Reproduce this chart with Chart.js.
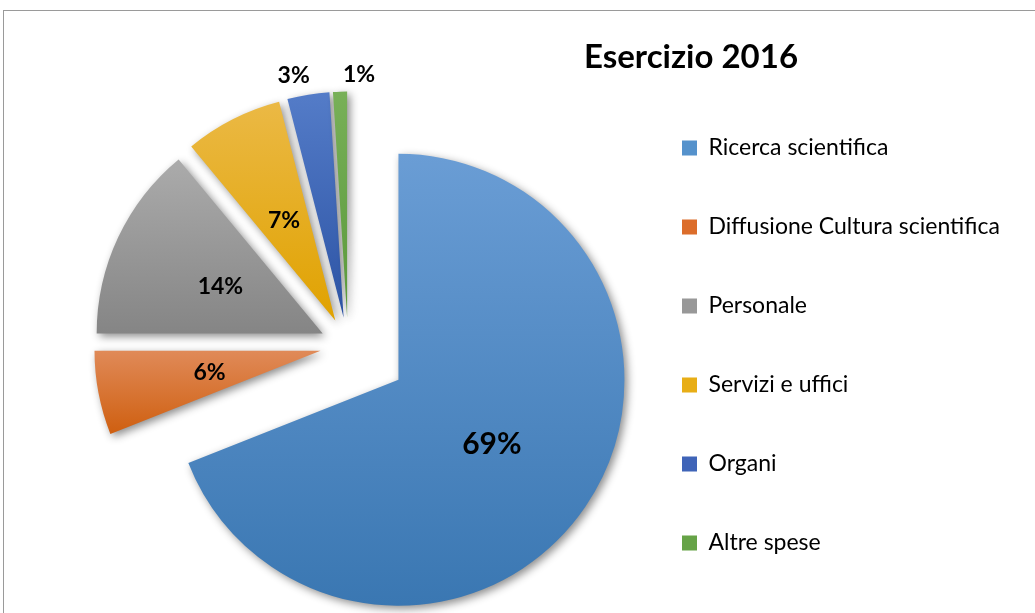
<!DOCTYPE html>
<html>
<head>
<meta charset="utf-8">
<script src="https://cdn.jsdelivr.net/npm/chart.js@4.4.1/dist/chart.umd.min.js"></script>
<style>
    html, body { margin: 0; padding: 0; background: #fff; overflow: hidden; }
    #cornice { position: absolute; left: 3px; top: 10px; width: 1100px; height: 700px;
               border-top: 1px solid #9a9a9a; border-left: 1px solid #9a9a9a; }
    #grafico { position: absolute; left: 0; top: 0; }
</style>
</head>
<body>
<div id="cornice"></div>
<canvas id="grafico" width="1035" height="690"></canvas>
<script>
const titolo = 'Esercizio 2016';
const categorie = ['Ricerca scientifica', 'Diffusione Cultura scientifica', 'Personale', 'Servizi e uffici', 'Organi', 'Altre spese'];
const percentuali = [69, 6, 14, 7, 3, 1];

// colori (sfumatura chiaro -> scuro come in Excel) e colore pieno per la legenda
const chiari = ['#6a9dd5', '#e08a58', '#ababab', '#ebb945', '#547cc8', '#78b058'];
const scuri = ['#3a77b2', '#cf5f10', '#858585', '#e0a200', '#2c53a4', '#5a993b'];
const pieni = ['#5592cc', '#dc6d2a', '#989898', '#e8ae16', '#3f64b8', '#66a347'];

const RAGGIO = 226;
const esplosione = [61, 28, 28, 28, 28, 28];           // px, lungo la bisettrice della fetta
const distEtichetta = [0.5, 0.5, 0.5, 0.5, 1.1, 1.08];
const spostAngolo = [0, 0, 0, 0, -2.6, 4.6];            // gradi
const fontEtichetta = [30, 23, 23, 23, 23, 23];

const corpoLegenda = 23;
const boxLegenda = 15;
const padLegenda = 79 - corpoLegenda;
const xLegenda = 682;
const misura = document.createElement('canvas').getContext('2d');
misura.font = corpoLegenda + 'px Lato';
const piuLungo = Math.max(...categorie.map(t => misura.measureText(t).width));

function riempimento(ctx) {
    const chart = ctx.chart;
    const area = chart.chartArea;
    const i = ctx.dataIndex;
    if (!area || ctx.type !== 'data') return pieni[i];
    const totale = percentuali.reduce((a, b) => a + b, 0);
    let prima = 0;
    for (let k = 0; k < i; k++) prima += percentuali[k];
    const a0 = -Math.PI / 2 + 2 * Math.PI * prima / totale;
    const a1 = a0 + 2 * Math.PI * percentuali[i] / totale;
    const mid = (a0 + a1) / 2;
    const cy = (area.top + area.bottom) / 2 + Math.sin(mid) * esplosione[i];
    let yMin = cy, yMax = cy;
    for (let k = 0; k <= 40; k++) {
        const y = cy + Math.sin(a0 + (a1 - a0) * k / 40) * RAGGIO;
        yMin = Math.min(yMin, y);
        yMax = Math.max(yMax, y);
    }
    const g = chart.ctx.createLinearGradient(0, yMin, 0, yMax);
    g.addColorStop(0, chiari[i]);
    g.addColorStop(1, scuri[i]);
    return g;
}

// torta esplosa: sposto ogni fetta senza accorciarla (l'offset di chart.js la rimpicciolisce)
const esplodi = {
    id: 'esplodi',
    afterDatasetsUpdate(chart) {
        chart.getDatasetMeta(0).data.forEach((arc, i) => {
            const mid = (arc.startAngle + arc.endAngle) / 2;
            arc.x += Math.cos(mid) * esplosione[i];
            arc.y += Math.sin(mid) * esplosione[i];
        });
    }
};

const ombra = {
    id: 'ombra',
    beforeDatasetsDraw(chart) {
        const c = chart.ctx;
        c.save();
        c.shadowColor = 'rgba(0,0,0,0.45)';
        c.shadowBlur = 9;
        c.shadowOffsetX = 3;
        c.shadowOffsetY = 3;
    },
    afterDatasetsDraw(chart) {
        chart.ctx.restore();
    }
};

const etichette = {
    id: 'etichette',
    afterDraw(chart) {
        const c = chart.ctx;
        c.save();
        c.fillStyle = '#000';
        c.textAlign = 'center';
        c.textBaseline = 'alphabetic';
        chart.getDatasetMeta(0).data.forEach((arc, i) => {
            const mid = (arc.startAngle + arc.endAngle) / 2;
            const a = mid + spostAngolo[i] * Math.PI / 180;
            const d = RAGGIO * distEtichetta[i];
            const f = fontEtichetta[i];
            c.font = 'bold ' + f + 'px Lato';
            c.fillText(percentuali[i] + '%', arc.x + Math.cos(a) * d, arc.y + Math.sin(a) * d + f * 0.36);
        });
        c.font = 'bold 33px Lato';
        c.fillText(titolo, 691, 68);
        c.restore();
    }
};

const ctx = document.getElementById('grafico');
const chart = new Chart(ctx, {
    type: 'pie',
    data: {
        labels: categorie,
        datasets: [{
            data: percentuali,
            backgroundColor: riempimento,
            borderWidth: 0
        }]
    },
    options: {
        responsive: false,
        animation: false,
        events: [],
        radius: RAGGIO,
        layout: {
            padding: {
                left: 70,
                right: 1035 - xLegenda - boxLegenda - corpoLegenda / 2 - piuLungo - 10,
                top: 39,
                bottom: 38
            }
        },
        plugins: {
            tooltip: { enabled: false },
            legend: {
                position: 'right',
                labels: {
                    font: { family: 'Lato', size: corpoLegenda },
                    color: '#000',
                    boxWidth: boxLegenda,
                    boxHeight: boxLegenda,
                    padding: padLegenda,
                    generateLabels: () => categorie.map((t, i) => ({
                        text: t, fillStyle: pieni[i], strokeStyle: pieni[i], lineWidth: 0, hidden: false, index: i
                    }))
                }
            }
        }
    },
    plugins: [esplodi, ombra, etichette]
});
</script>
</body>
</html>
